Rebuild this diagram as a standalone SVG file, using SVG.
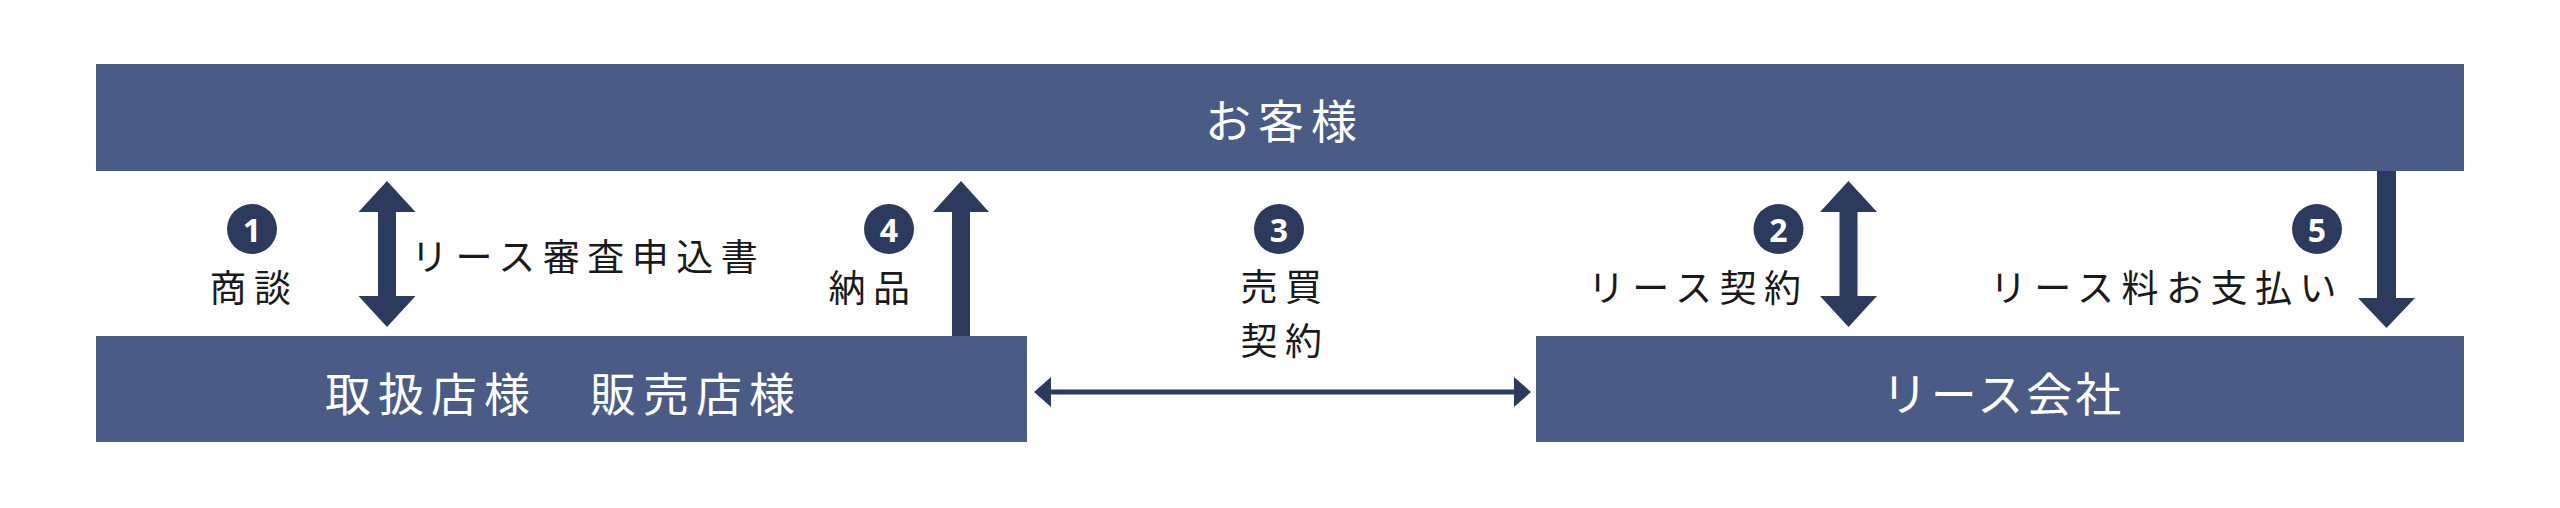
<svg xmlns="http://www.w3.org/2000/svg" width="2560" height="508" viewBox="0 0 2560 508">
<style>
.box{fill:#4a5c85}
.arr{fill:#2c3a5e}
.num{fill:#2c3a5e}
.boxtxt{font-family:"Noto Sans CJK JP","Noto Sans",sans-serif;font-size:46px;fill:#ffffff;letter-spacing:7px;dominant-baseline:central}
.lbl{font-family:"Noto Sans CJK JP","Noto Sans",sans-serif;font-size:37px;fill:#1a1a1a;letter-spacing:7.5px;dominant-baseline:central}
.numtxt{font-family:"Noto Sans","Noto Sans CJK JP",sans-serif;font-size:32px;font-weight:700;fill:#ffffff;text-anchor:middle;dominant-baseline:central}
</style>
<rect width="2560" height="508" fill="#ffffff"/>
<g id="customer">
<rect class="box" x="96" y="64" width="2368" height="107"/>
<text class="boxtxt" x="1284.5" y="118" text-anchor="middle">お客様</text>
</g>
<g id="dealer">
<rect class="box" x="96" y="336" width="931" height="106"/>
<text class="boxtxt" x="563.5" y="391" text-anchor="middle">取扱店様　販売店様</text>
</g>
<g id="lease-company">
<rect class="box" x="1536" y="336" width="928" height="106"/>
<text class="boxtxt" x="2003" y="391" text-anchor="middle" style="letter-spacing:3px">リース会社</text>
</g>
<g id="connectors">
<polygon class="arr" points="387,181 358.5,212 378,212 378,296 358.5,296 387,327 415.5,296 396,296 396,212 415.5,212"/>
<polygon class="arr" points="961,181 933,212 952,212 952,336 970,336 970,212 989,212"/>
<polygon class="arr" points="1848.5,181 1820,212 1839.5,212 1839.5,296 1820,296 1848.5,327 1877,296 1857.5,296 1857.5,212 1877,212"/>
<polygon class="arr" points="2377,171 2396,171 2396,298 2415,298 2386.5,328 2358,298 2377,298"/>
<line x1="1048" y1="392" x2="1517" y2="392" stroke="#2c3a5e" stroke-width="5"/>
<polygon class="arr" points="1034,392 1051,377 1051,407"/>
<polygon class="arr" points="1531,392 1514,377 1514,407"/>
</g>
<g id="step1">
<circle class="num" cx="252" cy="229" r="25"/>
<text class="numtxt" x="252" y="229">1</text>
<text class="lbl" x="254" y="285.5" text-anchor="middle">商談</text>
<text class="lbl" x="411" y="254.5">リース審査申込書</text>
</g>
<g id="step4">
<circle class="num" cx="889" cy="229" r="25"/>
<text class="numtxt" x="889" y="229">4</text>
<text class="lbl" x="917.5" y="285.5" text-anchor="end">納品</text>
</g>
<g id="step3">
<circle class="num" cx="1279" cy="229" r="25"/>
<text class="numtxt" x="1279" y="229">3</text>
<text class="lbl" x="1285" y="284.5" text-anchor="middle">売買</text>
<text class="lbl" x="1285" y="338.5" text-anchor="middle">契約</text>
</g>
<g id="step2">
<circle class="num" cx="1778.5" cy="229" r="25"/>
<text class="numtxt" x="1778.5" y="229">2</text>
<text class="lbl" x="1808.5" y="285.5" text-anchor="end">リース契約</text>
</g>
<g id="step5">
<circle class="num" cx="2317" cy="229" r="25"/>
<text class="numtxt" x="2317" y="229">5</text>
<text class="lbl" x="2344" y="285.5" text-anchor="end">リース料お支払い</text>
</g>
</svg>
